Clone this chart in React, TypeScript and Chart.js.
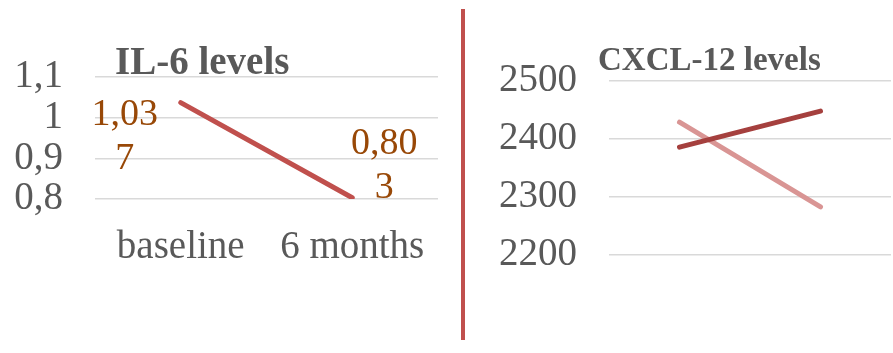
import React, { useEffect, useRef } from "react";
import { Chart, registerables } from "chart.js";
Chart.register(...registerables);

const categories = ["baseline", "6 months"];
const il6Values = [1.037, 0.803];
const il6Ticks = [0.8, 0.9, 1.0, 1.1];
const cxclSeriesA = [2386, 2448];
const cxclSeriesB = [2429, 2283];
const cxclTicks = [2200, 2300, 2400, 2500];
const il6Title = "IL-6 levels";
const cxclTitle = "CXCL-12 levels";

const SERIF = "'Liberation Serif', 'Times New Roman', serif";
const GREY = "#595959";

const commaFmt = (v: number) => String(Math.round(v * 1000) / 1000).replace(".", ",");

const panelTitlePlugin = {
  id: "panelTitle",
  afterDraw(chart: any, _args: any, opts: any) {
    if (!opts || !opts.text) return;
    const { ctx, chartArea } = chart;
    ctx.save();
    ctx.font = `bold ${opts.size}px ${SERIF}`;
    ctx.fillStyle = GREY;
    ctx.textAlign = "left";
    ctx.textBaseline = "alphabetic";
    ctx.fillText(opts.text, chartArea.left + opts.dx, chartArea.top + opts.dy);
    ctx.restore();
  },
};

const wrapLabelPlugin = {
  id: "wrapLabels",
  afterDatasetsDraw(chart: any, _args: any, opts: any) {
    if (!opts || !opts.enabled) return;
    const { ctx } = chart;
    const meta = chart.getDatasetMeta(0);
    const data = chart.data.datasets[0].data as number[];
    ctx.save();
    ctx.font = `${opts.size}px ${SERIF}`;
    ctx.fillStyle = opts.color;
    ctx.textAlign = "center";
    ctx.textBaseline = "middle";
    meta.data.forEach((pt: any, i: number) => {
      const txt = commaFmt(data[i]);
      const lines = [txt.slice(0, 4), txt.slice(4)].filter((s) => s.length);
      const off = opts.offsets[i];
      lines.forEach((ln, j) => {
        ctx.fillText(ln, pt.x + off.dx, pt.y + off.dy + j * opts.lineGap);
      });
    });
    ctx.restore();
  },
};

function LeftChart() {
  const ref = useRef<HTMLCanvasElement>(null);
  useEffect(() => {
    const chart = new Chart(ref.current!, {
      type: "line",
      data: {
        labels: categories,
        datasets: [
          {
            data: il6Values,
            borderColor: "#C0504D",
            borderWidth: 5,
            pointRadius: 0,
            borderCapStyle: "round",
            tension: 0,
          },
        ],
      },
      options: {
        animation: false,
        responsive: false,
        layout: { padding: { top: 77, right: 17, bottom: 0, left: 0 } },
        scales: {
          x: {
            offset: true,
            grid: { display: false },
            border: { display: false },
            ticks: { color: GREY, font: { family: SERIF, size: 39 }, padding: 17 },
            afterFit: (s: any) => {
              s.height = 154;
            },
          },
          y: {
            min: 0.8,
            max: 1.1,
            afterBuildTicks: (s: any) => {
              s.ticks = il6Ticks.map((v) => ({ value: v }));
            },
            grid: { color: "#D9D9D9", lineWidth: 1.5, drawTicks: false },
            border: { display: false },
            ticks: {
              autoSkip: false,
              color: GREY,
              font: { family: SERIF, size: 39 },
              padding: 32,
              callback: (v: any) => commaFmt(Number(v)),
            },
            afterFit: (s: any) => {
              s.width = 95;
            },
          },
        },
        plugins: {
          legend: { display: false },
          tooltip: { enabled: false },
          panelTitle: { text: il6Title, size: 39, dx: 20, dy: -3 },
          wrapLabels: {
            enabled: true,
            size: 38,
            color: "#984807",
            lineGap: 44,
            offsets: [
              { dx: -56, dy: 12 },
              { dx: 32, dy: -54 },
            ],
          },
        } as any,
      },
      plugins: [panelTitlePlugin, wrapLabelPlugin],
    });
    return () => chart.destroy();
  }, []);
  return <canvas ref={ref} width={455} height={353} style={{ position: "absolute", left: 0, top: 0, width: 455, height: 353 }} />;
}

function RightChart() {
  const ref = useRef<HTMLCanvasElement>(null);
  useEffect(() => {
    const chart = new Chart(ref.current!, {
      type: "line",
      data: {
        labels: categories,
        datasets: [
          {
            data: cxclSeriesA,
            borderColor: "#A5403E",
            borderWidth: 5,
            pointRadius: 0,
            borderCapStyle: "round",
            tension: 0,
          },
          {
            data: cxclSeriesB,
            borderColor: "#D99594",
            borderWidth: 5,
            pointRadius: 0,
            borderCapStyle: "round",
            tension: 0,
          },
        ],
      },
      options: {
        animation: false,
        responsive: false,
        layout: { padding: { top: 81, right: 2, bottom: 98, left: 0 } },
        scales: {
          x: {
            offset: true,
            grid: { display: false },
            border: { display: false },
            ticks: { display: false },
            afterFit: (s: any) => {
              s.height = 0;
            },
          },
          y: {
            min: 2200,
            max: 2500,
            afterBuildTicks: (s: any) => {
              s.ticks = cxclTicks.map((v) => ({ value: v }));
            },
            grid: { color: "#D9D9D9", lineWidth: 1.5, drawTicks: false },
            border: { display: false },
            ticks: {
              autoSkip: false,
              color: GREY,
              font: { family: SERIF, size: 39 },
              padding: 32,
              callback: (v: any) => String(v),
            },
            afterFit: (s: any) => {
              s.width = 139;
            },
          },
        },
        plugins: {
          legend: { display: false },
          tooltip: { enabled: false },
          panelTitle: { text: cxclTitle, size: 33, dx: -11, dy: -11 },
        } as any,
      },
      plugins: [panelTitlePlugin],
    });
    return () => chart.destroy();
  }, []);
  return <canvas ref={ref} width={423} height={353} style={{ position: "absolute", left: 470, top: 0, width: 423, height: 353 }} />;
}

export default function App() {
  return (
    <div style={{ position: "fixed", left: 0, top: 0, width: 893, height: 353, background: "#fff", overflow: "hidden" }}>
      <LeftChart />
      <div style={{ position: "absolute", left: 461, top: 9, width: 4, height: 331, background: "#C0504D" }} />
      <RightChart />
    </div>
  );
}
